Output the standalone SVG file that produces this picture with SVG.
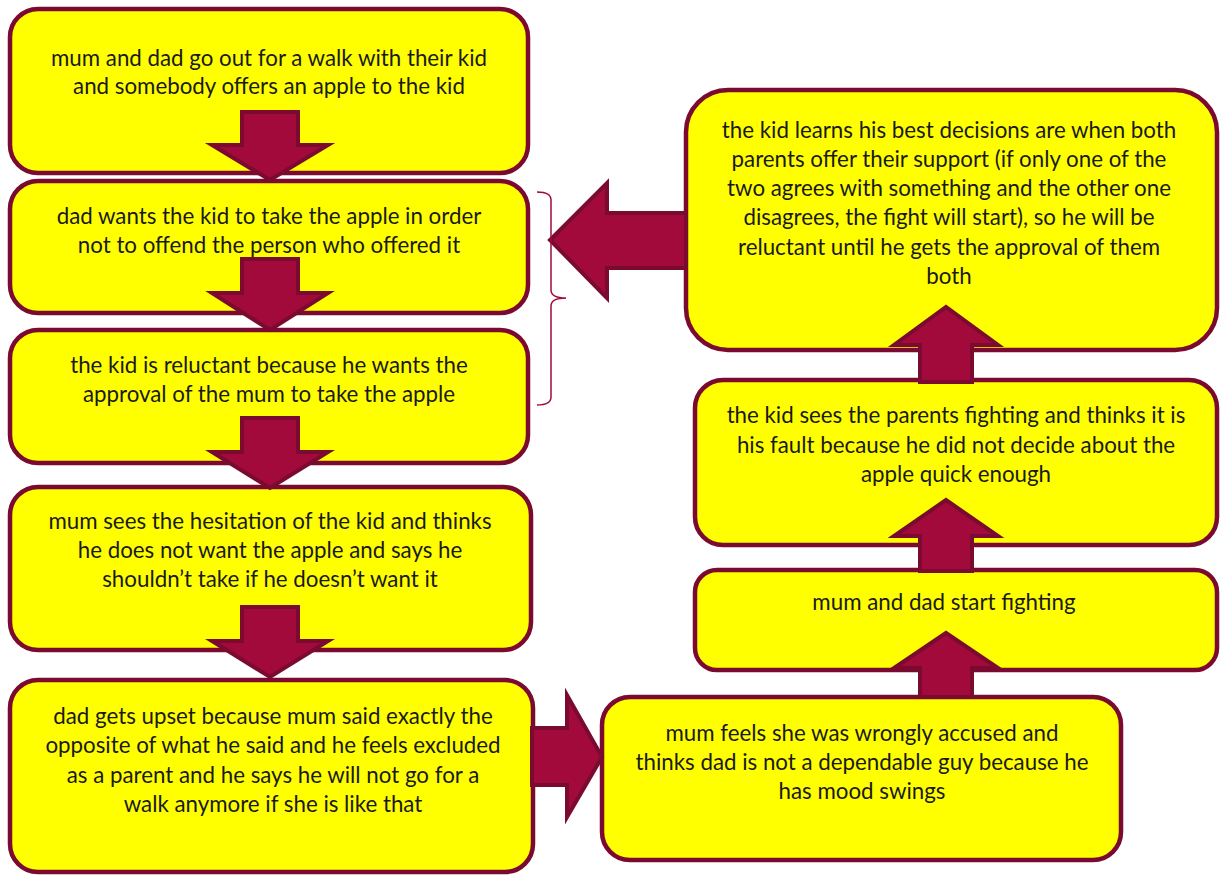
<svg xmlns="http://www.w3.org/2000/svg" width="1220" height="875" viewBox="0 0 1220 875">
<style>
.box{fill:#FFFF00;stroke:#7A0A30;stroke-width:4.5}
.arr{fill:#A30A3C;stroke:#7A0A30;stroke-width:4;stroke-linejoin:miter}
.t{font-family:Lato,"Liberation Sans",sans-serif;font-size:22.3px;fill:#1a1a1a;text-anchor:middle}
.br{fill:none;stroke:#A30A3C;stroke-width:1.5}
</style>
<rect width="1220" height="875" fill="#fff"/>
<g id="n1"><rect class="box" x="10" y="9" width="518" height="164" rx="28"/>
<text class="t" x="269" y="66">mum and dad go out for a walk with their kid</text>
<text class="t" x="269" y="94">and somebody offers an apple to the kid</text></g>
<g id="n2"><rect class="box" x="10" y="181" width="518" height="132" rx="28"/>
<text class="t" x="269" y="224">dad wants the kid to take the apple in order</text>
<text class="t" x="269" y="253">not to offend the person who offered it</text></g>
<g id="n3"><rect class="box" x="10" y="330" width="518" height="133" rx="28"/>
<text class="t" x="269" y="373">the kid is reluctant because he wants the</text>
<text class="t" x="269" y="402">approval of the mum to take the apple</text></g>
<g id="n4"><rect class="box" x="10" y="487" width="521" height="163" rx="28"/>
<text class="t" x="270" y="529">mum sees the hesitation of the kid and thinks</text>
<text class="t" x="270" y="558">he does not want the apple and says he</text>
<text class="t" x="270" y="587">shouldn’t take if he doesn’t want it</text></g>
<g id="n5"><rect class="box" x="10" y="680" width="523" height="192" rx="28"/>
<text class="t" x="273" y="724">dad gets upset because mum said exactly the</text>
<text class="t" x="273" y="753">opposite of what he said and he feels excluded</text>
<text class="t" x="273" y="783">as a parent and he says he will not go for a</text>
<text class="t" x="273" y="812">walk anymore if she is like that</text></g>
<g id="n6"><rect class="box" x="602" y="697" width="519" height="163" rx="28"/>
<text class="t" x="862" y="741">mum feels she was wrongly accused and</text>
<text class="t" x="862" y="770">thinks dad is not a dependable guy because he</text>
<text class="t" x="862" y="799">has mood swings</text></g>
<g id="n7"><rect class="box" x="695" y="570" width="522" height="100" rx="22"/>
<text class="t" x="944" y="610">mum and dad start fighting</text></g>
<g id="n8"><rect class="box" x="695" y="380" width="522" height="165" rx="28"/>
<text class="t" x="956" y="423">the kid sees the parents fighting and thinks it is</text>
<text class="t" x="956" y="453">his fault because he did not decide about the</text>
<text class="t" x="956" y="482">apple quick enough</text></g>
<g id="n9"><rect class="box" x="686" y="90" width="531" height="260" rx="42"/>
<text class="t" x="949" y="138">the kid learns his best decisions are when both</text>
<text class="t" x="949" y="167">parents offer their support (if only one of the</text>
<text class="t" x="949" y="196">two agrees with something and the other one</text>
<text class="t" x="949" y="225">disagrees, the fight will start), so he will be</text>
<text class="t" x="949" y="255">reluctant until he gets the approval of them</text>
<text class="t" x="949" y="284">both</text></g>
<g id="connectors">
<path class="arr" d="M242 112H298V145H328L270 180L212 145H242Z"/>
<path class="arr" d="M242 259H298V293H328L270 330L212 293H242Z"/>
<path class="arr" d="M242 418H298V452H328L270 488L212 452H242Z"/>
<path class="arr" d="M242 607H298V641H328L270 677L212 641H242Z"/>
<path class="arr" d="M532 728H567V695L602 757L567 817V785H532Z"/>
<path class="arr" d="M920 697V668H894L946 633L998 668H972V697Z"/>
<path class="arr" d="M920 571V536H894L946 500L998 536H972V571Z"/>
<path class="arr" d="M920 382V345H894L946 307L998 345H972V382Z"/>
<path class="arr" d="M686 213H607V183L550 240L607 298V268H686Z"/>
<path class="br" d="M537 192Q551 192 551 200V290Q551 298 566 298Q551 298 551 306V397Q551 405 537 405"/>
</g>
</svg>
